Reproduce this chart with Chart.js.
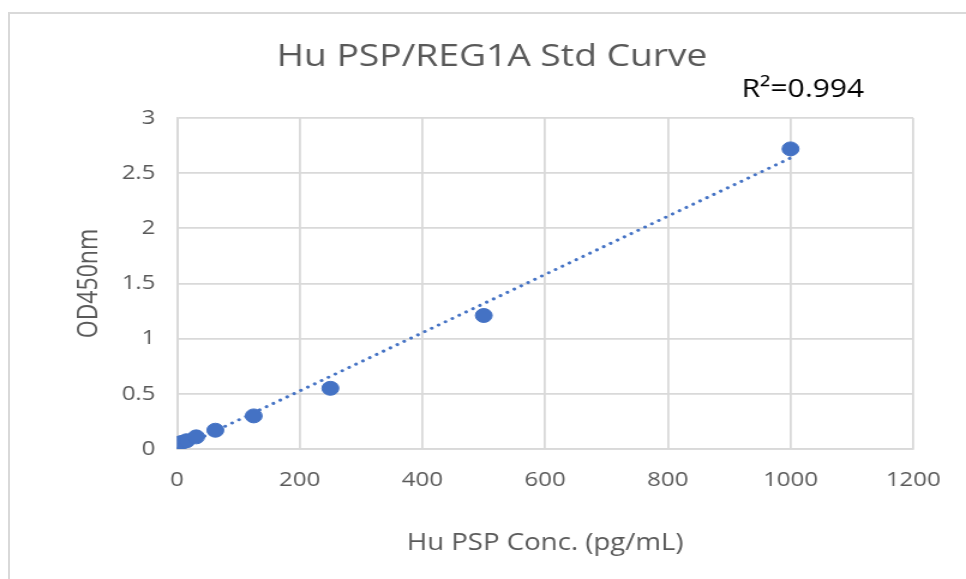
<!DOCTYPE html>
<html>
<head>
<meta charset="utf-8">
<script src="https://cdn.jsdelivr.net/npm/chart.js@4"></script>
<style>
  html, body { margin: 0; padding: 0; background: #fff; overflow: hidden; }
  #wrap { position: relative; width: 966px; height: 579px; overflow: hidden; }
  #frame { position: absolute; left: 8px; top: 12px; width: 980px; height: 600px;
           border: 2px solid #d9d9d9; box-sizing: border-box; }
  /* the reference picture is stretched sideways by about 1.2 */
  #stretch { position: absolute; left: 0; top: 0; width: 805px; height: 579px;
             transform: scaleX(1.2); transform-origin: 0 0; }
</style>
</head>
<body>
<div id="wrap">
  <div id="frame"></div>
  <div id="stretch"><canvas id="stdCurve" width="805" height="579"></canvas></div>
</div>
<script>
const concentrations = [0, 7.8, 15.6, 31.25, 62.5, 125, 250, 500, 1000];
const odValues = [0.05, 0.06, 0.075, 0.11, 0.17, 0.30, 0.55, 1.21, 2.72];
const xTicks = [0, 200, 400, 600, 800, 1000, 1200];
const yTicks = [0, 0.5, 1, 1.5, 2, 2.5, 3];
const rSquaredLabel = 'R²=0.994';

// least squares fit, like the Excel trendline
const n = concentrations.length;
const mx = concentrations.reduce((a, b) => a + b, 0) / n;
const my = odValues.reduce((a, b) => a + b, 0) / n;
let sxy = 0, sxx = 0;
concentrations.forEach((x, i) => {
    sxy += (x - mx) * (odValues[i] - my);
    sxx += (x - mx) * (x - mx);
});
const slope = sxy / sxx;
const intercept = my - slope * mx;
const xMin = Math.min(...concentrations), xMax = Math.max(...concentrations);
const trend = [xMin, xMax].map(x => ({ x: x, y: intercept + slope * x }));

const textColor = '#595959';
const font = 'Open Sans';

const overlayText = {
    id: 'overlayText',
    afterDraw(chart) {
        const c = chart.ctx;
        c.save();
        c.textAlign = 'center';
        c.textBaseline = 'middle';
        c.fillStyle = textColor;
        c.font = '31px "' + font + '"';
        c.fillText('Hu PSP/REG1A Std Curve', 410, 57);
        c.fillStyle = '#000';
        c.font = '25px "' + font + '"';
        c.fillText(rSquaredLabel, 669, 90);
        c.restore();
    }
};

new Chart(document.getElementById('stdCurve'), {
    type: 'scatter',
    data: {
        datasets: [{
            type: 'line',
            data: trend,
            borderColor: '#4472C4',
            borderWidth: 3,
            borderDash: [0.1, 6.5],
            borderCapStyle: 'round',
            pointRadius: 0,
            fill: false,
            order: 2
        }, {
            data: concentrations.map((x, i) => ({ x: x, y: odValues[i] })),
            backgroundColor: '#4472C4',
            borderColor: '#4472C4',
            pointRadius: 7,
            pointHoverRadius: 7,
            order: 1
        }]
    },
    options: {
        responsive: false,
        animation: false,
        layout: { padding: { left: 57, right: 44, top: 118, bottom: 18 } },
        plugins: {
            legend: { display: false },
            tooltip: { enabled: false }
        },
        scales: {
            x: {
                type: 'linear',
                min: 0,
                max: 1200,
                afterBuildTicks: s => { s.ticks = xTicks.map(v => ({ value: v })); },
                afterFit: s => { s.height = 579 - 449 - 18; },
                ticks: {
                    color: textColor,
                    font: { size: 20, family: font },
                    padding: 19,
                    callback: v => String(v)
                },
                grid: { color: '#d9d9d9', lineWidth: 1.8, drawTicks: false },
                border: { color: '#d9d9d9', width: 1.8 },
                title: {
                    display: true,
                    text: 'Hu PSP Conc. (pg/mL)',
                    color: textColor,
                    font: { size: 23, family: font },
                    padding: { top: 4, bottom: 4 }
                }
            },
            y: {
                min: 0,
                max: 3,
                afterBuildTicks: s => { s.ticks = yTicks.map(v => ({ value: v })); },
                afterFit: s => { s.width = 147.5 - 57; },
                ticks: {
                    color: textColor,
                    font: { size: 20, family: font },
                    padding: 18,
                    callback: v => String(v)
                },
                grid: { color: '#d9d9d9', lineWidth: 1.8, drawTicks: false },
                border: { color: '#d9d9d9', width: 1.8 },
                title: {
                    display: true,
                    text: 'OD450nm',
                    color: textColor,
                    font: { size: 23, family: font },
                    padding: { top: 4, bottom: 4 }
                }
            }
        }
    },
    plugins: [overlayText]
});
</script>
</body>
</html>
